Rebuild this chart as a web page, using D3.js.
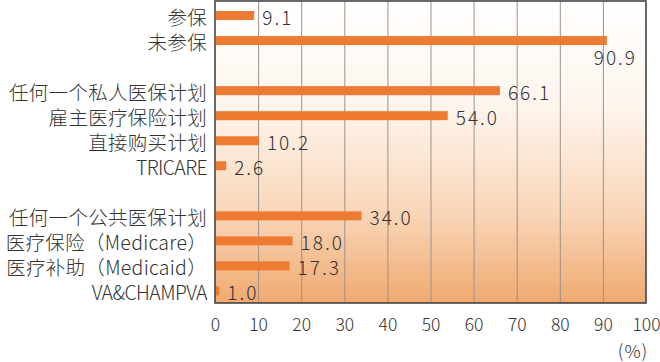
<!DOCTYPE html>
<html>
<head>
<meta charset="utf-8">
<script src="https://cdn.jsdelivr.net/npm/d3@7/dist/d3.min.js"></script>
<style>
  html, body { margin: 0; padding: 0; background: #ffffff; }
  svg { display: block; }
  text { font-family: "Noto Sans CJK SC", "Noto Sans", sans-serif; fill: #333; font-weight: 300; }
</style>
</head>
<body>
<svg id="chart" width="660" height="362"></svg>
<script>
// ---- data ----
const categories = [
  "参保", "未参保",
  "任何一个私人医保计划", "雇主医疗保险计划", "直接购买计划", "TRICARE",
  "任何一个公共医保计划", "医疗保险（Medicare）", "医疗补助（Medicaid）", "VA&CHAMPVA"
];
const groups = [0, 0, 1, 1, 1, 1, 2, 2, 2, 2];
const values = [9.1, 90.9, 66.1, 54.0, 10.2, 2.6, 34.0, 18.0, 17.3, 1.0];
const xTicks = [0, 10, 20, 30, 40, 50, 60, 70, 80, 90, 100];
const unitLabel = "(%)";

// ---- layout ----
const svg = d3.select("#chart");
const plot = { left: 215, right: 646, top: 1, bottom: 303 };

// slots: categories with a blank slot between groups
const slots = [];
categories.forEach((c, i) => {
  if (i > 0 && groups[i] !== groups[i - 1]) slots.push("__gap" + i);
  slots.push(c);
});

const x = d3.scaleLinear().domain([0, 100]).range([plot.left, plot.right]);
const y = d3.scaleBand().domain(slots).range([3, 303.5]);

// gradient background
const defs = svg.append("defs");
const grad = defs.append("linearGradient").attr("id", "bg")
  .attr("x1", 0).attr("y1", 0).attr("x2", 0).attr("y2", 1);
grad.append("stop").attr("offset", "0%").attr("stop-color", "#ffffff");
grad.append("stop").attr("offset", "35%").attr("stop-color", "#fef5ed");
grad.append("stop").attr("offset", "70%").attr("stop-color", "#f9d6b9");
grad.append("stop").attr("offset", "100%").attr("stop-color", "#f0a970");

svg.append("rect")
  .attr("x", plot.left).attr("y", plot.top)
  .attr("width", plot.right - plot.left).attr("height", plot.bottom - plot.top)
  .attr("fill", "url(#bg)");

// grid lines
svg.append("g").selectAll("line")
  .data(xTicks.filter(t => t > 0 && t < 100))
  .join("line")
  .attr("x1", d => x(d) + 0.5).attr("x2", d => x(d) + 0.5)
  .attr("y1", plot.top).attr("y2", plot.bottom)
  .attr("stroke", "#9c928b").attr("stroke-width", 1);

// bars
const barH = 9;
svg.append("g").selectAll("rect")
  .data(categories)
  .join("rect")
  .attr("x", x(0) + 1)
  .attr("y", d => y(d) + y.bandwidth() / 2 - barH / 2)
  .attr("width", (d, i) => x(values[i]) - x(0) - 1)
  .attr("height", barH)
  .attr("fill", "#ed7b32");

// border
svg.append("rect")
  .attr("x", plot.left).attr("y", plot.top)
  .attr("width", plot.right - plot.left).attr("height", plot.bottom - plot.top)
  .attr("fill", "none").attr("stroke", "#3a3a3a").attr("stroke-width", 1.5);

// category labels
svg.append("g").selectAll("text")
  .data(categories)
  .join("text")
  .attr("x", 207)
  .attr("y", d => y(d) + y.bandwidth() / 2 + 1)
  .attr("text-anchor", "end")
  .attr("dominant-baseline", "central")
  .attr("font-size", 19.5)
  .attr("letter-spacing", d => /^[A-Z&]+$/.test(d) ? -0.6 : 0.3)
  .text(d => d);

// value labels
svg.append("g").selectAll("text")
  .data(categories)
  .join("text")
  .each(function (d, i) {
    const t = d3.select(this);
    const v = values[i];
    const label = v.toFixed(1);
    t.text(label)
      .attr("font-size", 19)
      .attr("letter-spacing", 2)
      .attr("dominant-baseline", "central");
    if (x(v) + 50 > plot.right) {
      t.attr("x", plot.right - 9).attr("text-anchor", "end")
       .attr("y", y(d) + y.bandwidth() / 2 + 16);
    } else {
      t.attr("x", x(v) + 8).attr("text-anchor", "start")
       .attr("y", y(d) + y.bandwidth() / 2 + 1);
    }
  });

// x axis
const axis = svg.append("g")
  .attr("transform", `translate(0,${plot.bottom})`)
  .call(d3.axisBottom(x).tickValues(xTicks).tickSize(0).tickPadding(16).tickFormat(d3.format("d")));
axis.select(".domain").remove();
axis.selectAll("text")
  .attr("font-family", '"Noto Sans CJK SC", "Noto Sans", sans-serif')
  .attr("font-size", 17.5)
  .attr("font-weight", 300)
  .attr("fill", "#333");
axis.selectAll(".tick").filter(d => d === 100).select("text")
  .attr("text-anchor", "end").attr("x", 660 - x(100));

svg.append("text")
  .attr("x", 633).attr("y", 350)
  .attr("text-anchor", "middle")
  .attr("dominant-baseline", "central")
  .attr("font-size", 18)
  .attr("letter-spacing", 1)
  .text(unitLabel);
</script>
</body>
</html>
